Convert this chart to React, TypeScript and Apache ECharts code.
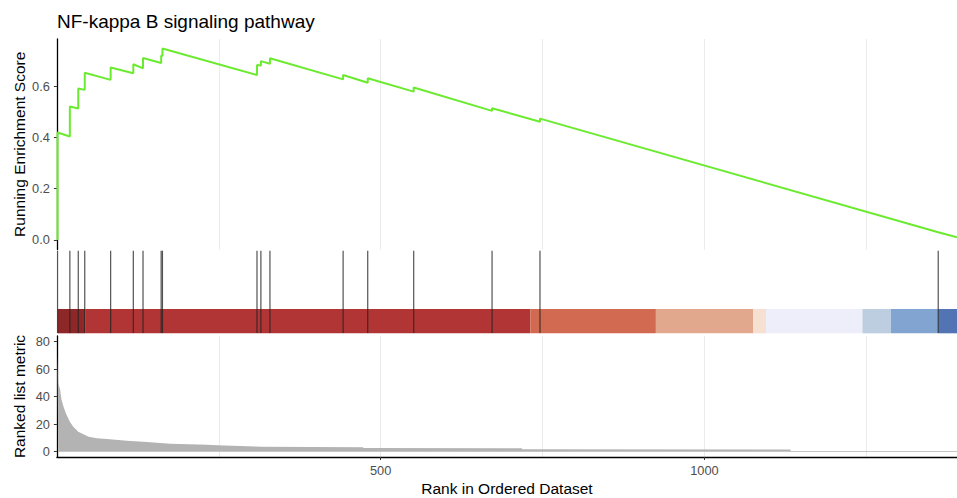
import React, { useEffect, useRef } from "react";
import * as echarts from "echarts";

// ---------- data ----------
const chartTitle = "NF-kappa B signaling pathway";
const totalRanks = 1390;

// running enrichment score (read at each step: value before / after the hit)
const esRank = [1, 1, 20, 20, 33, 33, 43, 43, 83, 83, 118, 118, 133, 133, 161, 161, 163, 163, 309, 309, 315, 315, 329, 329, 442, 442, 480, 480, 551, 551, 672, 672, 746, 746, 1361, 1361, 1390];
const esScore = [0, 0.419, 0.403, 0.52, 0.512, 0.59, 0.585, 0.652, 0.624, 0.672, 0.65, 0.685, 0.669, 0.709, 0.69, 0.718, 0.717, 0.746, 0.643, 0.682, 0.68, 0.697, 0.687, 0.708, 0.626, 0.643, 0.613, 0.63, 0.578, 0.594, 0.503, 0.513, 0.461, 0.473, 0.03, 0.032, 0.01];

// positions of gene-set members in the ranked list
const hitRank = [1, 20, 33, 43, 83, 118, 133, 161, 163, 309, 315, 329, 442, 480, 551, 672, 746, 1361];

// ranked list metric
const metricRank = [1, 2, 5, 7, 10, 13, 15, 20, 25, 33, 41, 49, 62, 77, 108, 139, 175, 232, 247, 317, 473, 473, 718, 718, 1133, 1133, 1390];
const metricValue = [70, 50, 45, 38, 33, 29, 26.7, 21.8, 18.2, 14.5, 12.6, 10.9, 9.7, 9.2, 8.0, 7.0, 5.8, 5.0, 4.6, 3.6, 3.2, 2.6, 2.4, 1.8, 1.6, 0.4, 0.4];

// colour bar segment boundaries (ranks)
const rankBarBreaks = [1, 44, 731, 925, 1075, 1095, 1244, 1288, 1361, 1390];

// tick values
const esTicks = [0, 0.2, 0.4, 0.6];
const metricTicks = [0, 20, 40, 60, 80];
const rankTicks = [500, 1000];
const rankGridStep = 250;

// ---------- styles ----------
const rankBarColors = ["#8E2727", "#B13535", "#D16A50", "#E1A88D", "#F5E0D2", "#EEEEFB", "#BDCEE0", "#82A4D0", "#5274B4"];
const FONT = "'Liberation Sans', Arial, sans-serif";

export default function App() {
  const ref = useRef<HTMLDivElement>(null);

  useEffect(() => {
    if (!ref.current) return;
    const chart = echarts.init(ref.current, null, { renderer: "svg" });

    const esData = esRank.map((r, i) => [r, esScore[i]]);
    const metricData = metricRank.map((r, i) => [r, metricValue[i]]);
    const hitData = hitRank.map((r) => [r]);
    const barData = rankBarBreaks.slice(0, -1).map((b, i) => [b, rankBarBreaks[i + 1], i]);

    const left = 56.9;
    const axisName = { color: "#000", fontSize: 15.5, fontFamily: FONT };
    const tickLabel = { color: "#4D4D4D", fontSize: 12.8, fontFamily: FONT };

    const mainX = [0, 1, 2].map((i) => ({
      type: "value",
      gridIndex: i,
      min: 0,
      max: totalRanks,
      interval: rankGridStep,
      axisLine: { show: i === 2, onZero: false, lineStyle: { color: "#000", width: 1.3 } },
      axisTick: { show: i === 2, customValues: rankTicks, length: 3, lineStyle: { color: "#333" } },
      axisLabel: {
        show: i === 2,
        customValues: rankTicks,
        margin: 7,
        formatter: (v: number) => String(v),
        ...tickLabel,
      },
      splitLine: { show: false },
      name: i === 2 ? "Rank in Ordered Dataset" : "",
      nameLocation: "middle",
      nameGap: 23,
      nameMoveOverlap: false,
      nameTextStyle: axisName,
    }));
    // grid-line-only axes (vertical lines every 250 ranks)
    const gridX = [0, 2].map((i) => ({
      type: "value",
      gridIndex: i,
      position: "top",
      min: 0,
      max: totalRanks,
      interval: rankGridStep,
      axisLine: { show: false },
      axisTick: { show: false },
      axisLabel: { show: false },
      splitLine: { show: true, lineStyle: { color: "#EBEBEB", width: 1 } },
    }));

    const option: any = {
      animation: false,
      backgroundColor: "#fff",
      title: {
        text: chartTitle,
        left: 52,
        top: 7,
        textStyle: { fontSize: 19, fontWeight: "normal", color: "#000", fontFamily: FONT },
      },
      grid: [
        { left, right: 0, top: 39, height: 210.5, containLabel: false, outerBoundsMode: "none" },
        { left, right: 0, top: 249.5, height: 86.5, containLabel: false, outerBoundsMode: "none" },
        { left, right: 0, top: 336, height: 121, containLabel: false, outerBoundsMode: "none" },
      ],
      xAxis: [...mainX, ...gridX],
      yAxis: [
        {
          type: "value",
          gridIndex: 0,
          min: -0.0373,
          max: 0.7833,
          axisLine: { show: true, lineStyle: { color: "#000", width: 1.3 } },
          axisTick: { show: true, customValues: esTicks, length: 3, lineStyle: { color: "#333" } },
          axisLabel: { customValues: esTicks, margin: 7, formatter: (v: number) => v.toFixed(1), ...tickLabel },
          splitLine: { show: false },
          name: "Running Enrichment Score",
          nameLocation: "middle",
          nameRotate: 90,
          nameGap: 29,
          nameMoveOverlap: false,
          nameTextStyle: axisName,
        },
        { type: "value", gridIndex: 1, min: 0, max: 1, show: false },
        {
          type: "value",
          gridIndex: 2,
          min: -3.9,
          max: 84.1,
          axisLine: { show: true, onZero: false, lineStyle: { color: "#000", width: 1.3 } },
          axisTick: { show: true, customValues: metricTicks, length: 3, lineStyle: { color: "#333" } },
          axisLabel: { customValues: metricTicks, margin: 7, formatter: (v: number) => String(v), ...tickLabel },
          splitLine: { show: false },
          name: "Ranked list metric",
          nameLocation: "middle",
          nameRotate: 90,
          nameGap: 29,
          nameMoveOverlap: false,
          nameTextStyle: axisName,
        },
      ],
      series: [
        {
          type: "line",
          xAxisIndex: 0,
          yAxisIndex: 0,
          data: esData,
          showSymbol: false,
          lineStyle: { color: "#6AEB2F", width: 2 },
          z: 5,
        },
        {
          type: "custom",
          xAxisIndex: 1,
          yAxisIndex: 1,
          data: barData,
          encode: { x: [0, 1] },
          renderItem: (_p: any, api: any) => {
            const p0 = api.coord([api.value(0), 0.312]);
            const p1 = api.coord([api.value(1), 0.031]);
            return {
              type: "rect",
              shape: { x: p0[0], y: p0[1], width: p1[0] - p0[0], height: p1[1] - p0[1] },
              style: { fill: rankBarColors[api.value(2)] },
            };
          },
          z: 2,
        },
        {
          type: "custom",
          xAxisIndex: 1,
          yAxisIndex: 1,
          data: hitData,
          encode: { x: 0 },
          renderItem: (_p: any, api: any) => {
            const top = api.coord([api.value(0), 0.986]);
            const bot = api.coord([api.value(0), 0.035]);
            return {
              type: "line",
              shape: { x1: top[0], y1: top[1], x2: bot[0], y2: bot[1] },
              style: { stroke: "#222", lineWidth: 1.2, opacity: 0.78 },
            };
          },
          z: 3,
        },
        {
          type: "line",
          xAxisIndex: 2,
          yAxisIndex: 2,
          data: metricData,
          showSymbol: false,
          lineStyle: { width: 0, color: "#B3B3B3" },
          itemStyle: { color: "#B3B3B3" },
          areaStyle: { color: "#B3B3B3", opacity: 1 },
          z: 2,
        },
      ],
    };

    chart.setOption(option);
    return () => chart.dispose();
  }, []);

  return (
    <div
      ref={ref}
      style={{ position: "fixed", left: 0, top: 0, width: 957, height: 498, background: "#fff" }}
    />
  );
}
